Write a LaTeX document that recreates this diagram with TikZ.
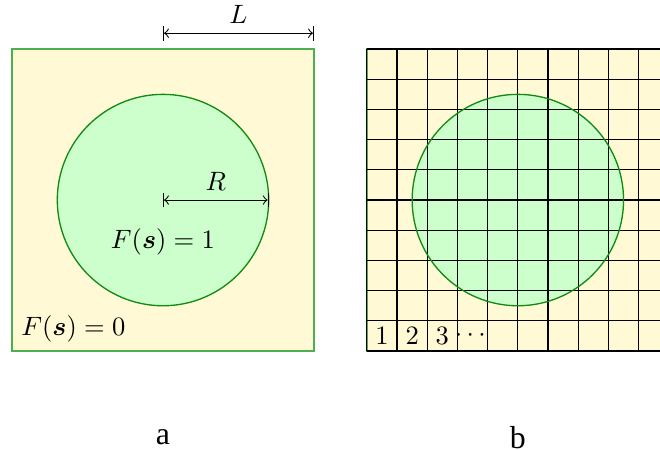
\documentclass[tikz,border=0pt]{standalone}
\usepackage{amsmath}
\usepackage{bm}
\usepackage[no-math]{fontspec}
\newfontfamily\capfont{Liberation Serif}
\definecolor{bgyel}{HTML}{FFF9D6}
\definecolor{circgreen}{HTML}{CCFFCC}
\definecolor{sqedge}{HTML}{4CAF50}
\definecolor{circedge}{HTML}{138A13}
\begin{document}
\begin{tikzpicture}[
  region/.style={fill=bgyel, draw=sqedge, line width=0.6pt},
  disc/.style={fill=circgreen, draw=circedge, line width=0.5pt},
  dim/.style={|<->|, line width=0.4pt},
  caption/.style={font=\capfont\large}
]
\clip (-0.159,-1.31) rectangle (8.583,4.65);
\useasboundingbox (-0.159,-1.31) rectangle (8.583,4.65);
% panel a
\draw[region] (0,0) rectangle (4,4);
\draw[disc] (2,2) circle (1.4);
\coordinate (cA) at (2,2);
\coordinate (rA) at (3.4,2);
\draw[dim] (cA) -- (rA) node[midway, above] (Rlab) {$R$};
\coordinate (l1) at (2,4.21);
\coordinate (l2) at (4,4.21);
\draw[dim] (l1) -- (l2) node[midway, above] (Llab) {$L$};
\node (Fone) at (2,1.45) {$F(\bm{s})=1$};
\node[above right] (Fzero) at (0,0) {$F(\bm{s})=0$};
% panel b
\begin{scope}[xshift=4.7cm]
\draw[region] (0,0) rectangle (4,4);
\fill[circgreen] (2,2) circle (1.4);
\draw[line width=0.45pt, black] (0,0) grid[step=0.4] (4,4);
\draw[circedge, line width=0.5pt] (2,2) circle (1.4);
\node (n1) at (0.2,0.2) {$1$};
\node (n2) at (0.6,0.2) {$2$};
\node (n3) at (1.0,0.2) {$3$};
\node (n4) at (1.4,0.2) {$\cdots$};
\end{scope}
\node[caption] (capa) at (2,-1.14) {a};
\node[caption] (capb) at (6.7,-1.14) {b};
\end{tikzpicture}
\end{document}
